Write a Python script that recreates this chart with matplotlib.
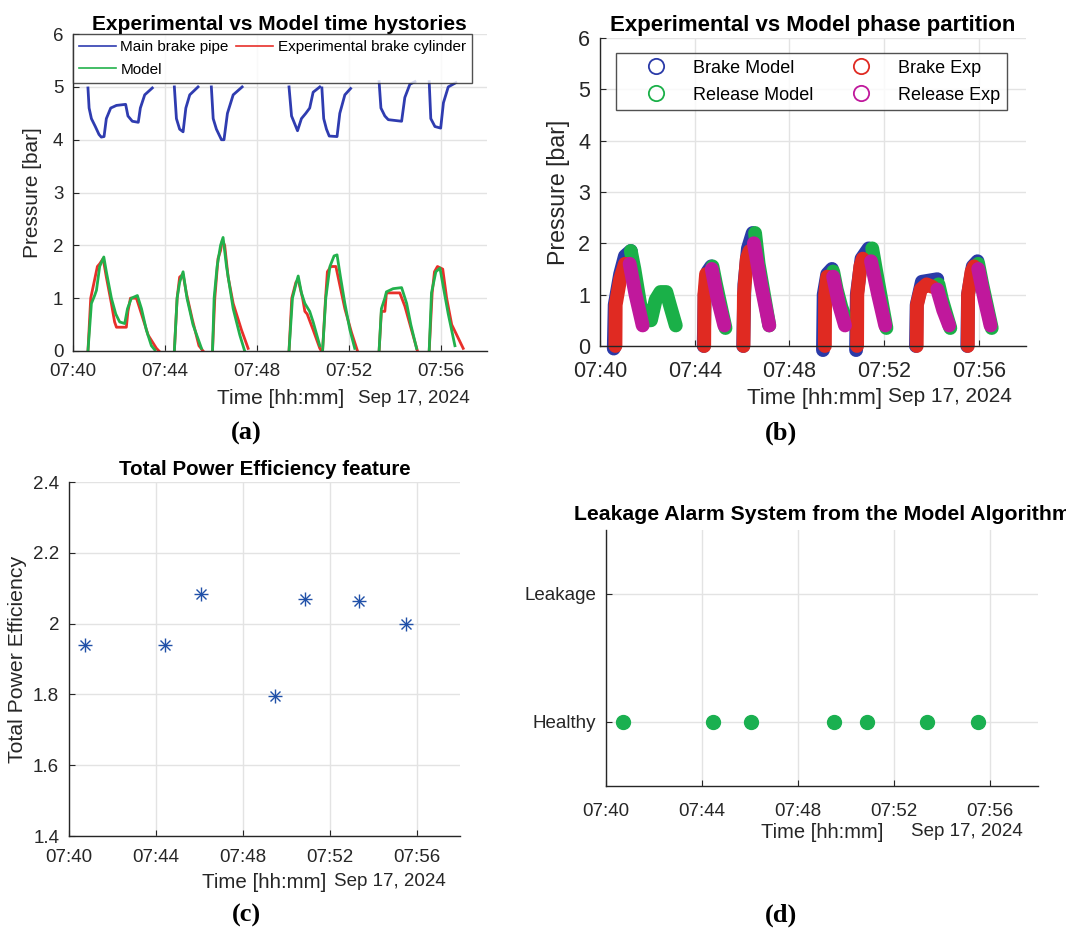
import numpy as np
import pandas as pd
import matplotlib
matplotlib.use("Agg")
import matplotlib.pyplot as plt
import matplotlib.dates as mdates
from matplotlib.lines import Line2D

plt.rcParams['font.family'] = ['Liberation Sans', 'DejaVu Sans']

# time in minutes after 07:40 (Sep 17, 2024)
# panel (a): each series is a list of braking events [(min, bar), ...]
pipe_segs = [
    [(0.65, 4.98), (0.70, 4.6), (0.80, 4.4), (0.97, 4.25), (1.13, 4.1), (1.23, 4.05), (1.35, 4.06), (1.45, 4.4),
     (1.64, 4.6), (1.89, 4.65), (2.29, 4.67), (2.39, 4.45), (2.58, 4.35), (2.84, 4.33), (2.93, 4.6), (3.12, 4.85), (3.45, 4.98)],
    [(4.41, 5.0), (4.50, 4.4), (4.64, 4.2), (4.79, 4.15), (4.91, 4.6), (5.08, 4.85), (5.44, 5.0)],
    [(6.02, 5.0), (6.10, 4.4), (6.24, 4.2), (6.46, 4.0), (6.57, 4.0), (6.72, 4.5), (6.97, 4.85), (7.36, 5.0)],
    [(9.40, 5.0), (9.51, 4.45), (9.65, 4.3), (9.77, 4.17), (9.94, 4.4), (10.13, 4.5), (10.30, 4.6), (10.45, 4.9), (10.74, 5.0)],
    [(10.83, 4.98), (10.91, 4.4), (11.03, 4.2), (11.15, 4.07), (11.49, 4.06), (11.61, 4.5), (11.83, 4.85), (12.08, 4.97)],
    [(13.32, 5.1), (13.40, 4.6), (13.57, 4.45), (13.72, 4.38), (14.30, 4.35), (14.44, 4.8), (14.66, 5.05), (14.88, 5.1)],
    [(15.50, 5.1), (15.57, 4.4), (15.75, 4.25), (16.00, 4.22), (16.12, 4.7), (16.33, 5.0), (16.66, 5.08)],
]
exp_segs = [
    [(0.65, 0), (0.77, 1.0), (0.94, 1.35), (1.06, 1.6), (1.16, 1.65), (1.31, 1.75), (1.45, 1.4), (1.67, 0.9), (1.81, 0.55),
     (1.89, 0.45), (2.32, 0.45), (2.39, 0.75), (2.50, 1.0), (2.76, 1.0), (2.98, 0.7), (3.27, 0.3), (3.63, 0.05), (3.74, 0)],
    [(4.41, 0), (4.53, 1.0), (4.64, 1.4), (4.79, 1.45), (4.93, 1.1), (5.19, 0.6), (5.48, 0.1), (5.66, 0)],
    [(6.07, 0), (6.17, 1.0), (6.31, 1.75), (6.42, 1.9), (6.50, 2.1), (6.60, 2.0), (6.75, 1.4), (6.97, 0.9), (7.33, 0.4), (7.62, 0.05)],
    [(9.40, 0), (9.52, 1.0), (9.70, 1.3), (9.80, 1.35), (9.99, 1.0), (10.09, 0.75), (10.19, 0.7), (10.45, 0.4), (10.74, 0.05), (10.81, 0)],
    [(10.86, 0), (10.99, 1.0), (11.07, 1.5), (11.22, 1.6), (11.44, 1.6), (11.61, 1.25), (11.83, 0.8), (12.12, 0.35), (12.38, 0)],
    [(13.32, 0), (13.42, 0.75), (13.57, 0.75), (13.64, 1.1), (14.22, 1.1), (14.44, 0.85), (14.73, 0.4), (14.99, 0)],
    [(15.50, 0), (15.63, 1.1), (15.73, 1.5), (15.86, 1.6), (16.09, 1.55), (16.26, 1.0), (16.48, 0.5), (16.98, 0.05)],
]
model_segs = [
    [(0.65, 0), (0.80, 0.9), (0.94, 1.05), (1.02, 1.15), (1.16, 1.6), (1.34, 1.78), (1.45, 1.5), (1.67, 1.0), (1.86, 0.7),
     (2.03, 0.55), (2.25, 0.52), (2.37, 0.8), (2.54, 1.0), (2.80, 1.05), (2.98, 0.8), (3.19, 0.4), (3.41, 0.1), (3.56, 0.02)],
    [(4.41, 0), (4.53, 1.0), (4.64, 1.3), (4.79, 1.5), (4.96, 1.0), (5.22, 0.5), (5.59, 0.05)],
    [(6.07, 0), (6.14, 1.0), (6.27, 1.6), (6.42, 2.0), (6.53, 2.15), (6.68, 1.6), (6.97, 0.8), (7.26, 0.3), (7.47, 0)],
    [(9.40, 0), (9.55, 1.0), (9.72, 1.3), (9.80, 1.42), (9.94, 1.1), (10.09, 0.9), (10.30, 0.75), (10.45, 0.55), (10.74, 0.1)],
    [(10.86, 0), (11.00, 1.0), (11.18, 1.6), (11.36, 1.8), (11.49, 1.82), (11.64, 1.4), (11.83, 0.9), (12.05, 0.4), (12.26, 0.05)],
    [(13.32, 0), (13.42, 0.8), (13.57, 1.0), (13.64, 1.12), (13.93, 1.18), (14.30, 1.2), (14.52, 0.9), (14.70, 0.5), (14.95, 0.05)],
    [(15.50, 0), (15.60, 1.1), (15.79, 1.5), (15.97, 1.57), (16.12, 1.2), (16.33, 0.7), (16.62, 0.1)],
]

# panel (b): phase partition
brake_model = [
    [(0.58, -0.05), (0.62, 0.8), (0.85, 1.4), (1.05, 1.75), (1.3, 1.85)],
    [(4.38, 0), (4.42, 1.0), (4.55, 1.45), (4.7, 1.55)],
    [(6.05, 0), (6.1, 1.2), (6.25, 1.9), (6.45, 2.2)],
    [(9.42, -0.08), (9.45, 1.0), (9.6, 1.4), (9.8, 1.5)],
    [(10.82, -0.08), (10.85, 1.0), (11.05, 1.7), (11.35, 1.9)],
    [(13.35, 0), (13.38, 0.8), (13.6, 1.25), (14.25, 1.3)],
    [(15.52, 0), (15.55, 1.0), (15.75, 1.55), (15.95, 1.65)],
]
release_model = [
    [(1.3, 1.85), (1.45, 1.5), (1.7, 0.8), (1.95, 0.5), (2.15, 0.5), (2.35, 0.9), (2.55, 1.05), (2.8, 1.05), (2.95, 0.8), (3.2, 0.4)],
    [(4.75, 1.55), (4.9, 1.2), (5.3, 0.35)],
    [(6.55, 2.2), (6.7, 1.6), (7.15, 0.4)],
    [(9.85, 1.45), (10.0, 1.1), (10.2, 0.75), (10.45, 0.45)],
    [(11.5, 1.9), (11.65, 1.5), (12.1, 0.35)],
    [(14.3, 1.2), (14.45, 0.9), (14.8, 0.35)],
    [(15.98, 1.6), (16.15, 1.2), (16.55, 0.35)],
]
brake_exp = [
    [(0.65, 0), (0.66, 0.8), (0.85, 1.3), (1.05, 1.6)],
    [(4.4, 0), (4.41, 1.0), (4.48, 1.4)],
    [(6.06, 0), (6.08, 1.0), (6.2, 1.7), (6.32, 1.85)],
    [(9.5, 0), (9.51, 1.0), (9.6, 1.35)],
    [(10.86, 0), (10.87, 1.0), (11.0, 1.55), (11.1, 1.7)],
    [(13.38, 0), (13.39, 0.8), (13.55, 1.1), (13.8, 1.2), (14.05, 1.15)],
    [(15.54, 0), (15.55, 1.0), (15.7, 1.45), (15.8, 1.55)],
]
release_exp = [
    [(1.25, 1.6), (1.5, 1.0), (1.8, 0.4)],
    [(4.72, 1.5), (4.95, 0.95), (5.25, 0.4)],
    [(6.5, 2.0), (6.8, 1.2), (7.15, 0.4)],
    [(9.85, 1.35), (10.1, 0.8), (10.35, 0.4)],
    [(11.45, 1.65), (11.75, 1.0), (12.05, 0.4)],
    [(14.25, 1.1), (14.5, 0.7), (14.75, 0.4)],
    [(15.98, 1.5), (16.25, 0.9), (16.5, 0.4)],
]

# panels (c), (d): one value per braking event
event_min = [0.72, 4.44, 6.06, 9.48, 10.88, 13.36, 15.51]
efficiency = [1.94, 1.94, 2.085, 1.796, 2.069, 2.063, 2.0]
alarm_state = [0, 0, 0, 0, 0, 0, 0]  # 0 = Healthy, 1 = Leakage
alarm_labels = ['Healthy', 'Leakage']

base = pd.Timestamp('2024-09-17 07:40')


def tt(m):
    return base + pd.to_timedelta(np.asarray(m, dtype=float), unit='m')


ink = '#262626'
grid_c = '#e3e3e3'


def style_ax(ax, tick_fs, xpad=7):
    ax.set_xlim(tt(0), tt(18))
    ax.xaxis.set_major_locator(mdates.MinuteLocator(byminute=[40, 44, 48, 52, 56]))
    ax.xaxis.set_major_formatter(mdates.DateFormatter('%H:%M'))
    ax.grid(True, color=grid_c, linewidth=1.0)
    ax.set_axisbelow(True)
    for s in ['top', 'right']:
        ax.spines[s].set_visible(False)
    for s in ['left', 'bottom']:
        ax.spines[s].set_color(ink)
        ax.spines[s].set_linewidth(1.0)
    ax.tick_params(direction='in', length=4, colors=ink, labelsize=tick_fs, pad=7)
    ax.tick_params(axis='x', pad=xpad)


fig = plt.figure(figsize=(10.66, 9.32), dpi=100)

# (a)
ax1 = fig.add_axes([0.0685, 0.6234, 0.388, 0.340])
style_ax(ax1, 13.5, xpad=9)
for segs, col in [(pipe_segs, '#2f3cb0'), (exp_segs, '#e8302a'), (model_segs, '#22b14c')]:
    for seg in segs:
        m, p = zip(*seg)
        ax1.plot(tt(m), p, color=col, lw=2.0)
ax1.set_ylim(0, 6)
ax1.set_ylabel('Pressure [bar]', fontsize=15, color=ink, labelpad=8)
ax1.set_title('Experimental vs Model time hystories', fontsize=15, fontweight='bold', pad=3)
h1 = [Line2D([], [], color='#2f3cb0', lw=1.2), Line2D([], [], color='#e8302a', lw=1.2), Line2D([], [], color='#22b14c', lw=1.2)]
leg = ax1.legend([h1[0], h1[2], h1[1]], ['Main brake pipe', 'Model', 'Experimental brake cylinder'],
                 ncol=2, loc='upper left', bbox_to_anchor=(0.0, 1.0), fontsize=11, frameon=True,
                 fancybox=False, edgecolor=ink, borderaxespad=0, handlelength=2.4, handletextpad=0.3,
                 columnspacing=0.5, labelspacing=0.55, borderpad=0.4)
leg.get_frame().set_linewidth(1.0)
fig.text(0.263, 1 - 398 / 932, 'Time [hh:mm]', fontsize=15, color=ink, ha='center', va='center')
fig.text(0.336, 1 - 398 / 932, 'Sep 17, 2024', fontsize=13.5, color=ink, ha='left', va='center')
fig.text(0.231, 1 - 433 / 932, '(a)', fontsize=19, fontweight='bold', family='Liberation Serif', ha='center', va='center')

# (b)
ax2 = fig.add_axes([0.5629, 0.6288, 0.3996, 0.3305])
style_ax(ax2, 15.5, xpad=11)
band = dict(lw=10, solid_capstyle='round', solid_joinstyle='round', clip_on=False)
for segs, col in [(brake_model, '#2a3aa8'), (release_model, '#1ab048'), (brake_exp, '#e02a22'), (release_exp, '#c0189c')]:
    for seg in segs:
        m, p = zip(*seg)
        ax2.plot(tt(m), p, color=col, **band)
ax2.set_ylim(0, 6)
ax2.set_ylabel('Pressure [bar]', fontsize=16.7, color=ink, labelpad=6)
ax2.set_title('Experimental vs Model phase partition', fontsize=16, fontweight='bold', pad=5)
h2 = [Line2D([], [], ls='none', marker='o', ms=11, mfc='none', mec=c, mew=1.3)
      for c in ['#2a3aa8', '#1ab048', '#e02a22', '#c0189c']]
leg2 = ax2.legend(h2, ['Brake Model', 'Release Model', 'Brake Exp', 'Release Exp'], ncol=2, loc='upper left',
                  bbox_to_anchor=(0.038, 0.95), fontsize=13, frameon=True, fancybox=False, edgecolor=ink,
                  borderaxespad=0, handlelength=3.7, handletextpad=0.2, columnspacing=0.8,
                  labelspacing=0.55, borderpad=0.35)
leg2.get_frame().set_linewidth(1.0)
fig.text(0.7645, 1 - 399 / 932, 'Time [hh:mm]', fontsize=16, color=ink, ha='center', va='center')
fig.text(0.833, 1 - 397 / 932, 'Sep 17, 2024', fontsize=15, color=ink, ha='left', va='center')
fig.text(0.733, 1 - 433 / 932, '(b)', fontsize=19, fontweight='bold', family='Liberation Serif', ha='center', va='center')

# (c)
ax3 = fig.add_axes([0.0647, 0.1030, 0.3668, 0.3798])
style_ax(ax3, 13.5, xpad=9)
ax3.plot(tt(event_min), efficiency, ls='none', marker='+', ms=10, color='#2050a8', mew=1.0)
ax3.plot(tt(event_min), efficiency, ls='none', marker='x', ms=7, color='#2050a8', mew=1.0)
ax3.set_ylim(1.4, 2.4)
ax3.set_yticks([1.4, 1.6, 1.8, 2.0, 2.2, 2.4])
ax3.set_yticklabels(['1.4', '1.6', '1.8', '2', '2.2', '2.4'])
ax3.set_ylabel('Total Power Efficiency', fontsize=15.3, color=ink, labelpad=4)
ax3.set_title('Total Power Efficiency feature', fontsize=14.8, fontweight='bold', pad=5)
fig.text(0.248, 1 - 882 / 932, 'Time [hh:mm]', fontsize=14.8, color=ink, ha='center', va='center')
fig.text(0.313, 1 - 881 / 932, 'Sep 17, 2024', fontsize=13.5, color=ink, ha='left', va='center')
fig.text(0.231, 1 - 915 / 932, '(c)', fontsize=19, fontweight='bold', family='Liberation Serif', ha='center', va='center')

# (d)
ax4 = fig.add_axes([0.5685, 0.1567, 0.4053, 0.2747])
style_ax(ax4, 13.5, xpad=12)
ax4.plot(tt(event_min), alarm_state, ls='none', marker='o', ms=10, color='#1ab050')
ax4.set_ylim(-0.5, 1.5)
ax4.set_yticks([0, 1])
ax4.set_yticklabels(alarm_labels)
ax4.set_title('Leakage Alarm System from the Model Algorithm', fontsize=15.3, fontweight='bold', pad=7)
fig.text(0.771, 1 - 833 / 932, 'Time [hh:mm]', fontsize=14.5, color=ink, ha='center', va='center')
fig.text(0.855, 1 - 831 / 932, 'Sep 17, 2024', fontsize=13.5, color=ink, ha='left', va='center')
fig.text(0.733, 1 - 915 / 932, '(d)', fontsize=19, fontweight='bold', family='Liberation Serif', ha='center', va='center')

fig.savefig('out.png', dpi=100)
